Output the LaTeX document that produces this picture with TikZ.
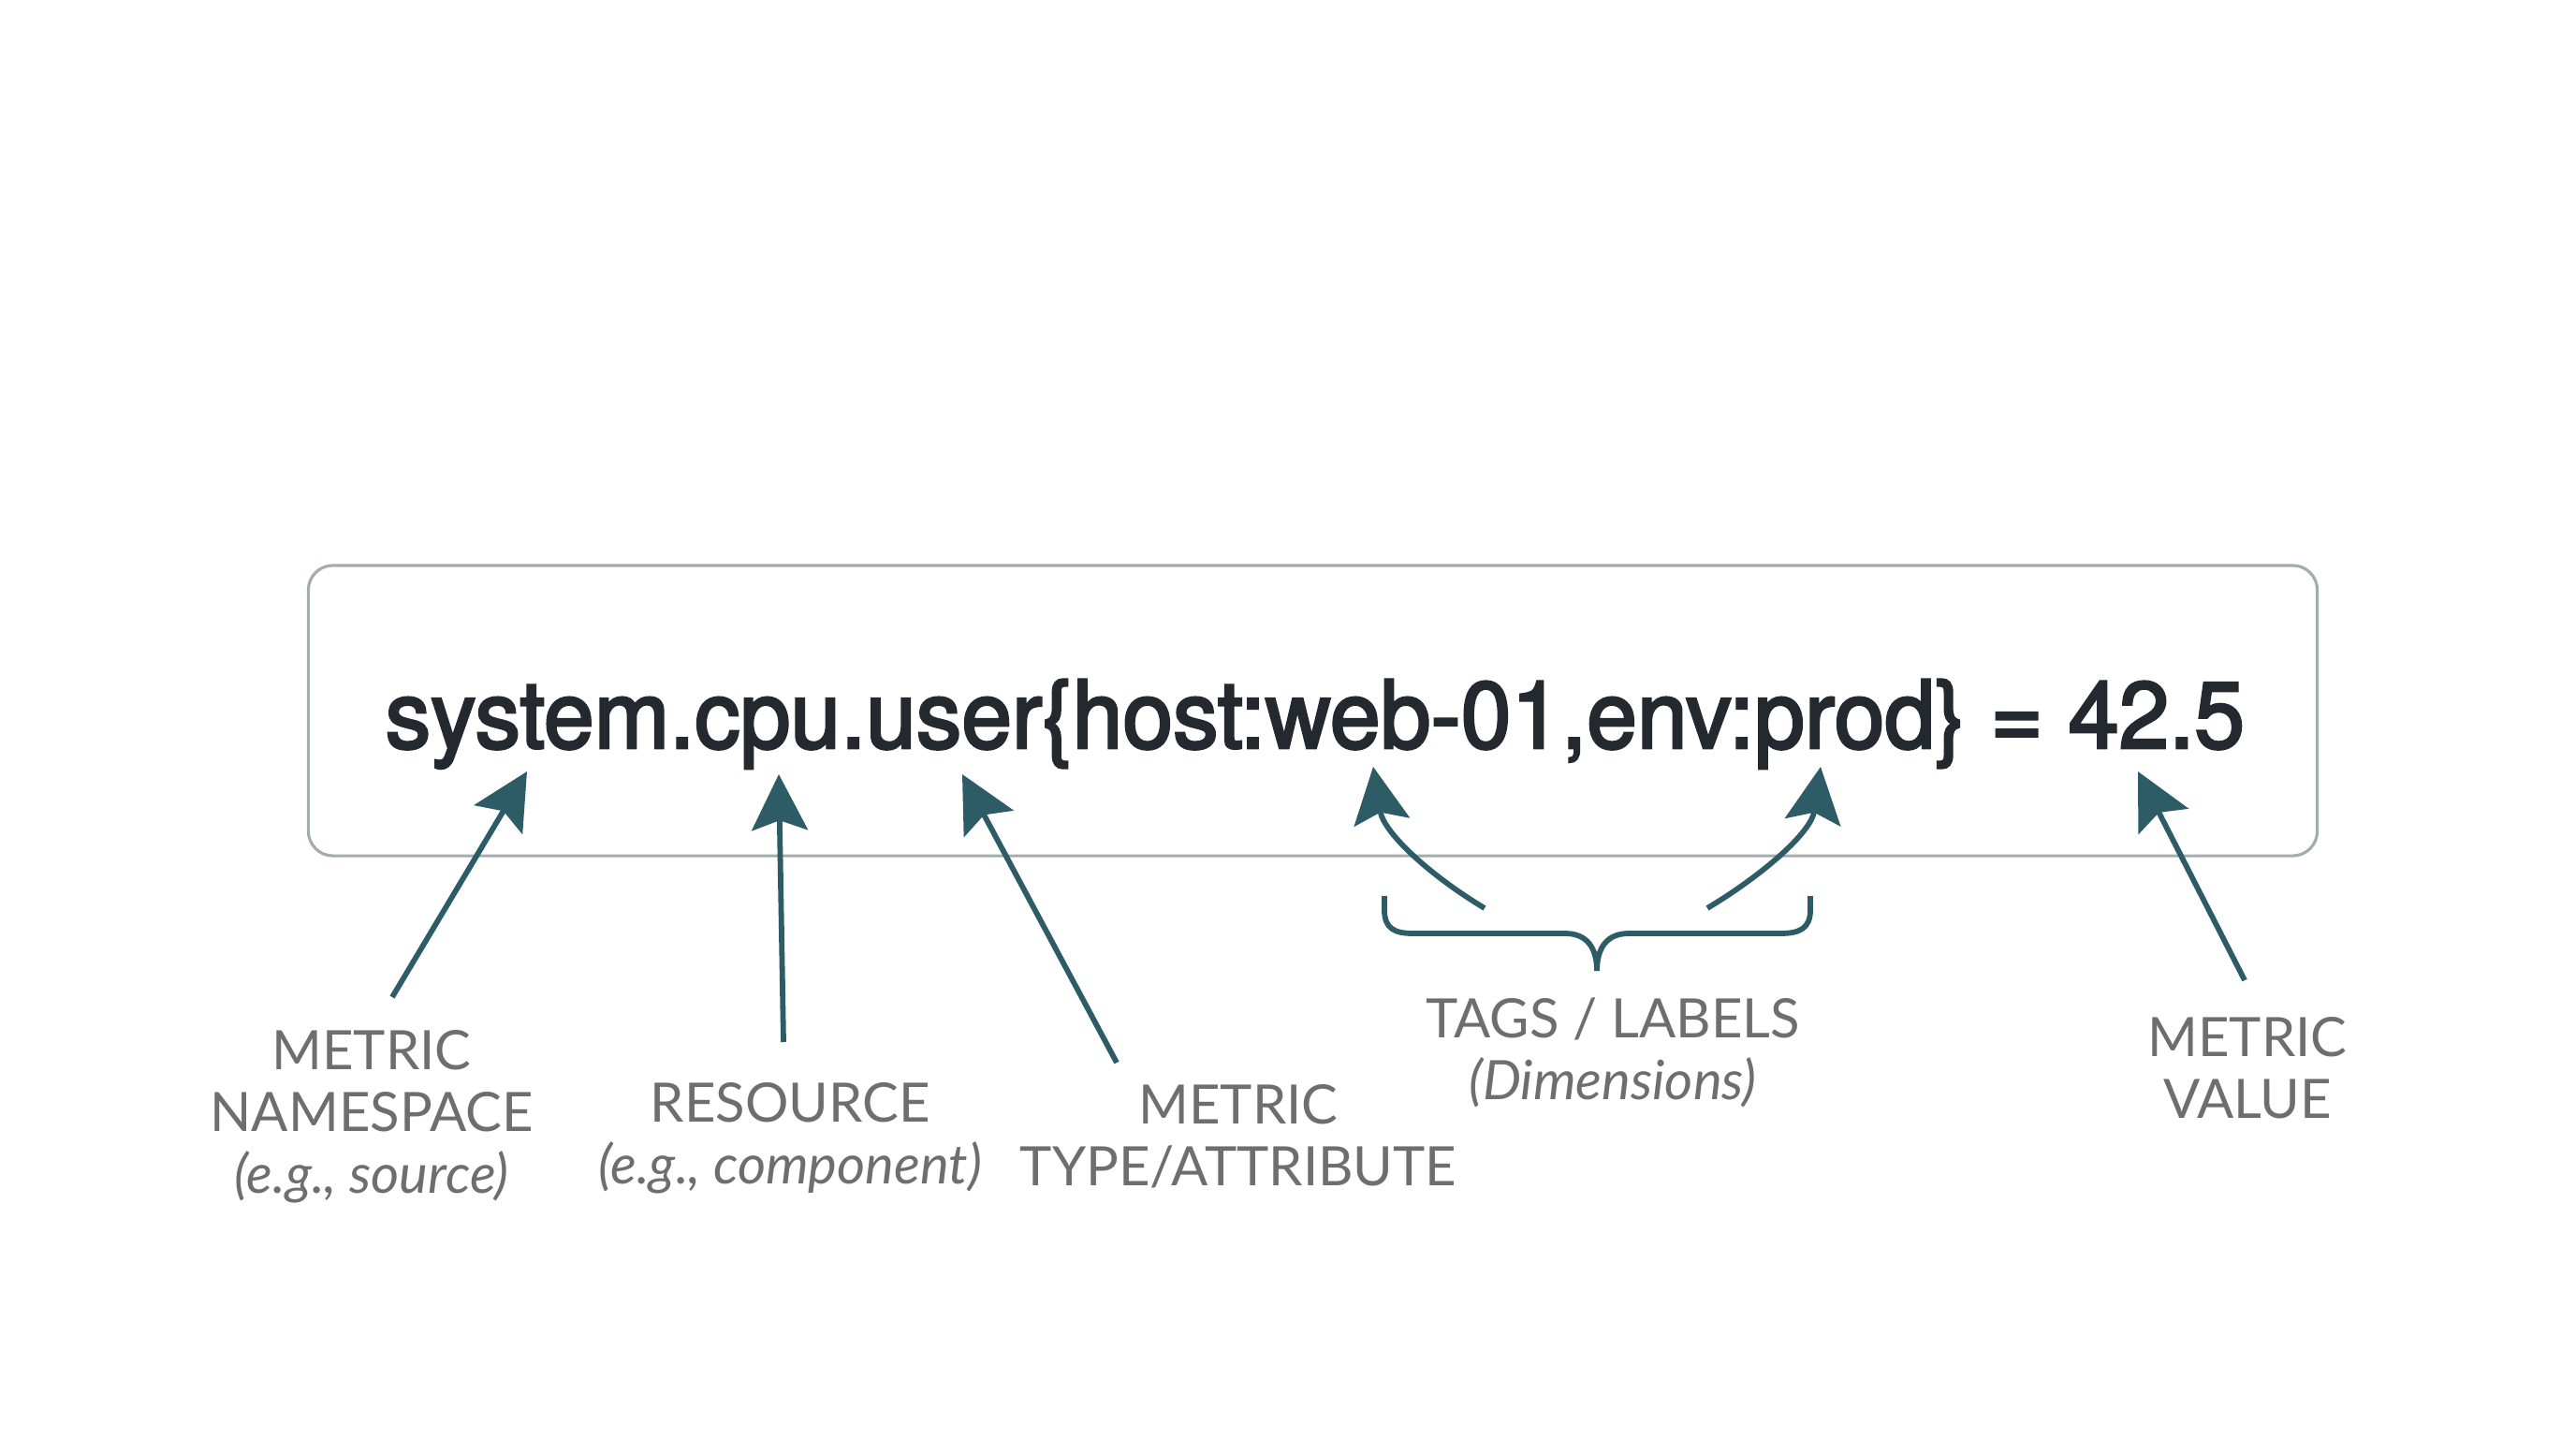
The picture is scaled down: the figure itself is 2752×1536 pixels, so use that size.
\documentclass[tikz,border=0pt]{standalone}
\usepackage{fontspec}
\setmainfont{Lato}
\newfontfamily\codefont[FakeStretch=0.962,FakeBold=2.7]{TeX Gyre Heros}
\usetikzlibrary{arrows.meta}
\definecolor{arrowc}{HTML}{2E5C66}
\definecolor{boxc}{HTML}{A3ADAD}
\definecolor{labelc}{HTML}{6E6E6E}
\definecolor{codec}{HTML}{23292E}
\tikzset{
  exprbox/.style={draw=boxc, line width=0.9pt, rounded corners=7.5pt, fill=white,
    minimum width=21.45cm, minimum height=3.10cm, inner sep=0pt},
  exprtext/.style={font=\codefont\fontsize{28.6}{32}\selectfont, text=codec, inner sep=0pt},
  pointer/.style={draw=arrowc, line width=1.65pt, -{Stealth[length=17pt,width=17pt,inset=3pt]}},
  bracestyle/.style={draw=arrowc, line width=1.65pt, line cap=butt},
  lbl/.style={font=\fontsize{16.5}{18.8}\selectfont, text=labelc, align=center, inner sep=0pt}
}
\begin{document}
\begin{tikzpicture}[x=0.01cm,y=-0.01cm]
\useasboundingbox (0,0) rectangle (2752,1536);
\fill[white] (0,0) rectangle (2752,1536);

\node[exprbox] (box) at (1402.5,759) {};
\node[exprtext, anchor=base] (expr) at (1405,799) {system.cpu.user\{host:web-01,env:prod\} = 42.5};

% arrow end points
\coordinate (nsS) at (419,1065);   \coordinate (nsT) at (563,824);
\coordinate (rsS) at (837,1113);   \coordinate (rsT) at (832,827);
\coordinate (tyS) at (1193,1135);  \coordinate (tyT) at (1028,827);
\coordinate (tlS) at (1586,970);   \coordinate (tlT) at (1467,819);
\coordinate (trS) at (1824,970);   \coordinate (trT) at (1945,819);
\coordinate (vaS) at (2398,1047);  \coordinate (vaT) at (2284,824);

\draw[pointer] (nsS) -- (nsT);
\draw[pointer] (rsS) -- (rsT);
\draw[pointer] (tyS) -- (tyT);
\draw[pointer] (tlS) .. controls (1526,934) and (1478,889) .. (tlT);
\draw[pointer] (trS) .. controls (1884,934) and (1935,889) .. (trT);
\draw[pointer] (vaS) -- (vaT);

% brace
\coordinate (brL) at (1479,957);
\coordinate (brM) at (1706,1037);
\coordinate (brR) at (1934,957);
\draw[bracestyle] (brL) -- (1479,972) .. controls (1479,992) and (1490,997) .. (1510,997)
  -- (1672,997) .. controls (1695,997) and (1706,1012) .. (brM)
  .. controls (1706,1012) and (1717,997) .. (1740,997)
  -- (1902,997) .. controls (1922,997) and (1934,992) .. (1934,972) -- (brR);

% labels
\node[lbl] (ns) at (397,1193) {METRIC\\NAMESPACE\\\textit{(e.g., source)}};
\node[lbl] (rs) at (844,1216) {RESOURCE\\\textit{(e.g., component)}};
\node[lbl] (ty) at (1323,1214) {METRIC\\TYPE/ATTRIBUTE};
\node[lbl] (tg) at (1723,1124) {TAGS / LABELS\\\textit{(Dimensions)}};
\node[lbl] (va) at (2401,1141) {METRIC\\VALUE};
\end{tikzpicture}
\end{document}
